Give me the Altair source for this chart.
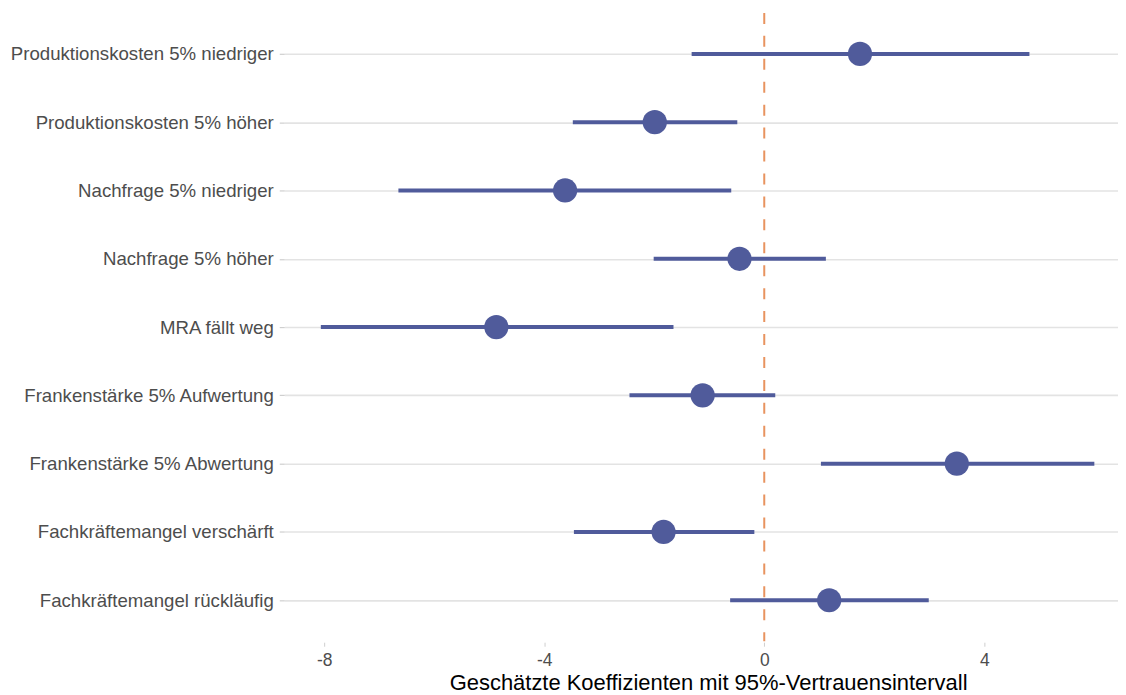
import altair as alt
import pandas as pd

categories = [
    "Produktionskosten 5% niedriger",
    "Produktionskosten 5% höher",
    "Nachfrage 5% niedriger",
    "Nachfrage 5% höher",
    "MRA fällt weg",
    "Frankenstärke 5% Aufwertung",
    "Frankenstärke 5% Abwertung",
    "Fachkräftemangel verschärft",
    "Fachkräftemangel rückläufig",
]
estimate = [1.74, -1.99, -3.62, -0.45, -4.87, -1.12, 3.50, -1.83, 1.18]
ci_low = [-1.32, -3.48, -6.65, -2.01, -8.06, -2.45, 1.03, -3.46, -0.62]
ci_high = [4.82, -0.49, -0.60, 1.12, -1.65, 0.20, 6.00, -0.18, 2.99]
x_ticks = [-8, -4, 0, 4]

df = pd.DataFrame({"cat": categories, "est": estimate, "lo": ci_low, "hi": ci_high})

FONT = "Liberation Sans"
xscale = alt.Scale(domain=[-8.725, 6.43], nice=False, zero=False)
yscale = alt.Scale(type="point", padding=0.6)

y_enc = alt.Y(
    "cat:N",
    sort=categories,
    scale=yscale,
    axis=alt.Axis(
        title=None,
        grid=True,
        gridColor="#e3e3e3",
        gridWidth=1.6,
        domain=False,
        ticks=True,
        tickColor="#cfcfcf",
        tickSize=5,
        tickWidth=1.2,
        labelFont=FONT,
        labelFontSize=18.7,
        labelColor="#4d4d4d",
        labelPadding=6,
        labelLimit=400,
    ),
)

x_enc = alt.X(
    "lo:Q",
    scale=xscale,
    axis=alt.Axis(
        title="Geschätzte Koeffizienten mit 95%-Vertrauensintervall",
        titleFont=FONT,
        titleFontSize=22,
        titleFontWeight="normal",
        titleColor="#000000",
        titlePadding=4,
        titleX=425,
        values=x_ticks,
        labelExpr="replace(format(datum.value, 'd'), '−', '-')",
        grid=False,
        domain=False,
        ticks=True,
        tickColor="#cfcfcf",
        tickSize=4,
        offset=1,
        labelFont=FONT,
        labelFontSize=17.5,
        labelColor="#4d4d4d",
        labelPadding=5,
    ),
)

ci = alt.Chart(df).mark_rule(color="#505b9b", strokeWidth=4).encode(
    x=x_enc,
    x2="hi:Q",
    y=y_enc,
)

zero_df = pd.DataFrame({"z": [0]})
zero = alt.Chart(zero_df).mark_rule(
    color="#e8935f", strokeWidth=2, strokeDash=[11, 12]
).encode(x=alt.X("z:Q", scale=xscale))

pts = alt.Chart(df).mark_circle(color="#505b9b", opacity=1, size=590).encode(
    x=alt.X("est:Q", scale=xscale),
    y=alt.Y("cat:N", sort=categories, scale=yscale),
)

chart = (
    alt.layer(zero, ci, pts)
    .properties(
        width=836,
        height=630,
        background="white",
        autosize=alt.AutoSizeParams(type="none"),
        padding={"left": 277, "top": 4, "right": 0, "bottom": 56},
    )
    .configure_view(strokeWidth=0, stroke="transparent")
)

chart.save("out.html", embed_options={"renderer": "svg", "actions": False})
